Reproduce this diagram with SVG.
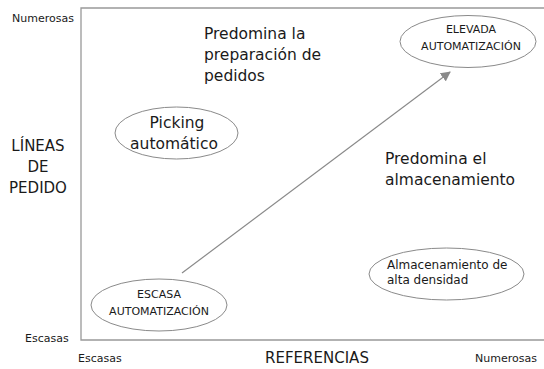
<svg xmlns="http://www.w3.org/2000/svg" width="544" height="369" viewBox="0 0 544 369">
<style>
text{font-family:"DejaVu Sans","Liberation Sans",sans-serif;fill:#1a1a1a}
.big{font-size:15.5px}
.axis{font-size:15px}
.small{font-size:11px}
.node ellipse{fill:#fff;stroke:#8a8a8a;stroke-width:1}
.frame{stroke:#999;stroke-width:1.3;fill:none}
.c{text-anchor:middle}
</style>
<defs>
<marker id="ah" viewBox="0 0 10 10" refX="9" refY="5" markerWidth="10" markerHeight="10" markerUnits="userSpaceOnUse" orient="auto">
<path d="M0,0 L10,5 L0,10 z" fill="#8a8a8a"/>
</marker>
</defs>
<rect width="544" height="369" fill="#fff"/>
<g id="frame">
<path class="frame" d="M544,8 H81 V340 H544"/>
</g>
<g id="axis-labels">
<text class="small" x="12" y="22">Numerosas</text>
<text class="small" x="25" y="342">Escasas</text>
<text class="small" x="78" y="362">Escasas</text>
<text class="small" x="475" y="362">Numerosas</text>
<text class="axis c" x="38" y="151">LÍNEAS</text>
<text class="axis c" x="38" y="172">DE</text>
<text class="axis c" x="38" y="193">PEDIDO</text>
<text class="axis c" x="317" y="363">REFERENCIAS</text>
</g>
<g id="region-labels">
<text class="big" x="204" y="39">Predomina la</text>
<text class="big" x="204" y="60">preparación de</text>
<text class="big" x="204" y="81">pedidos</text>
<text class="big" x="385" y="164">Predomina el</text>
<text class="big" x="385" y="185">almacenamiento</text>
</g>
<g id="connectors">
<line x1="182" y1="273" x2="450" y2="72" stroke="#8a8a8a" stroke-width="1.2" marker-end="url(#ah)"/>
</g>
<g id="picking" class="node">
<ellipse cx="176.5" cy="133" rx="61.5" ry="26"/>
<text class="big c" x="177" y="128">Picking</text>
<text class="big c" x="174" y="149">automático</text>
</g>
<g id="elevada" class="node">
<ellipse cx="468" cy="41.5" rx="68" ry="26"/>
<text class="small c" x="471" y="33">ELEVADA</text>
<text class="small c" x="471" y="50">AUTOMATIZACIÓN</text>
</g>
<g id="escasa" class="node">
<ellipse cx="159" cy="305" rx="68" ry="26"/>
<text class="small c" x="159" y="298">ESCASA</text>
<text class="small c" x="159" y="315">AUTOMATIZACIÓN</text>
</g>
<g id="almacenamiento" class="node">
<ellipse cx="446.5" cy="274" rx="77.5" ry="26"/>
<text style="font-size:12px" x="387" y="269">Almacenamiento de</text>
<text style="font-size:12px" x="387" y="284">alta densidad</text>
</g>
</svg>
